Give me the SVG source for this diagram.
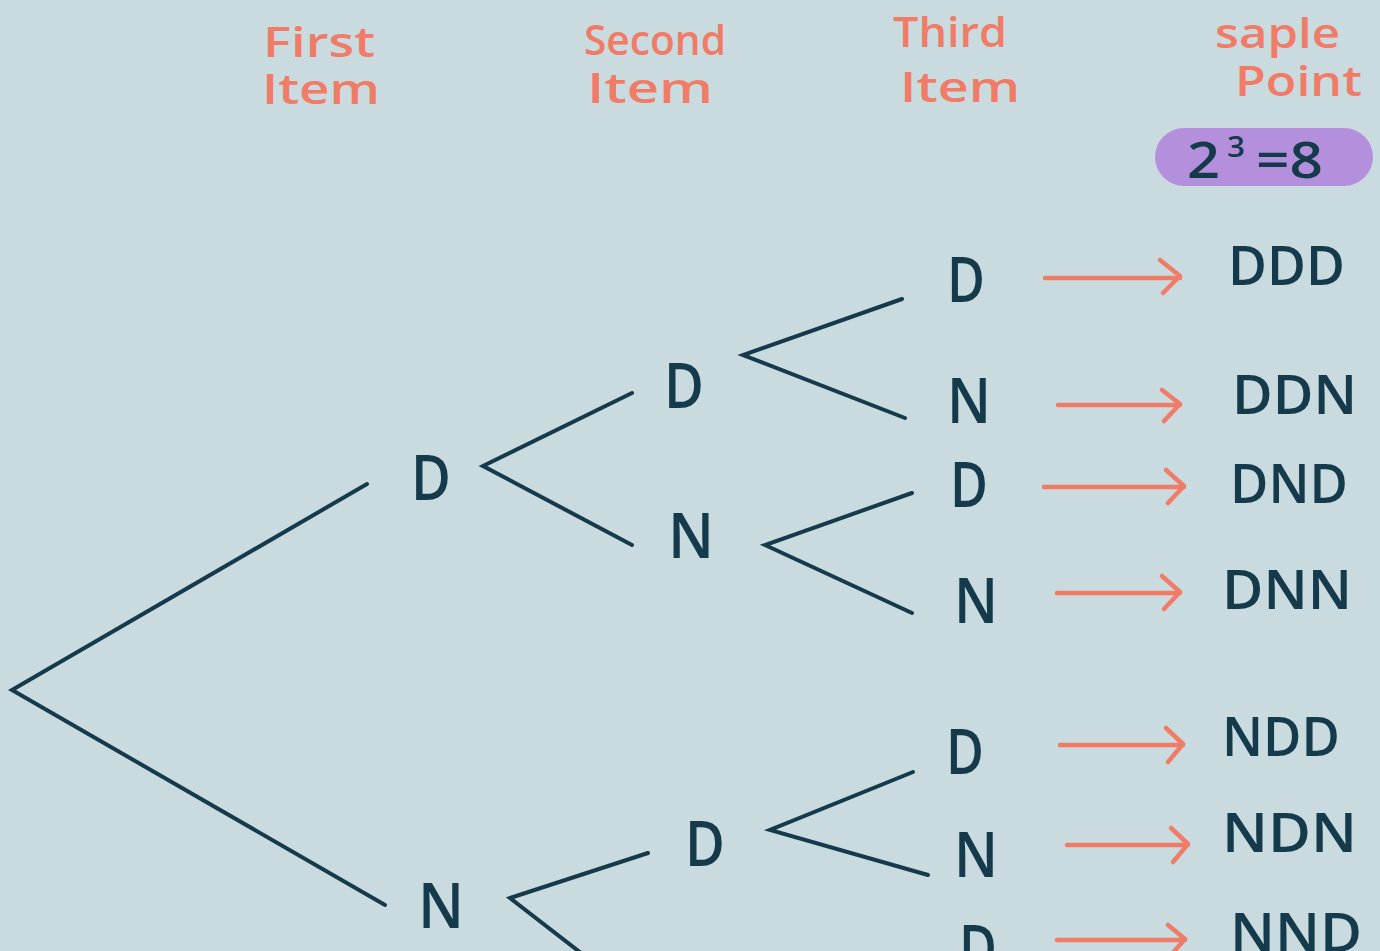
<svg xmlns="http://www.w3.org/2000/svg" width="1380" height="951" viewBox="0 0 1380 951">
<defs>
<style>
.hdr{font-family:"Open Sans","Liberation Sans",sans-serif;font-weight:600;font-size:41px;fill:#f07c68}
.lbl{font-family:"Open Sans","Liberation Sans",sans-serif;font-weight:600;font-size:64px;fill:#143a4b;text-anchor:middle}
.res{font-family:"Open Sans","Liberation Sans",sans-serif;font-weight:600;font-size:54px;fill:#143a4b}
.bdg{font-family:"Open Sans","Liberation Sans",sans-serif;font-weight:600;fill:#143a4b}
.edge{stroke:#143a4b;stroke-width:4;stroke-linecap:round;fill:none}
.arr{stroke:#f07c68;stroke-width:4.5;stroke-linecap:round;stroke-linejoin:round;fill:none}
</style>
</defs>
<rect width="1380" height="951" fill="#c9dbdf"/>
<g id="headers">
<text class="hdr" x="263" y="57" textLength="112" lengthAdjust="spacingAndGlyphs">First</text>
<text class="hdr" x="262" y="104" textLength="118" lengthAdjust="spacingAndGlyphs">Item</text>
<text class="hdr" x="584" y="55" textLength="142" lengthAdjust="spacingAndGlyphs">Second</text>
<text class="hdr" x="587" y="103" textLength="126" lengthAdjust="spacingAndGlyphs">Item</text>
<text class="hdr" x="893" y="47" textLength="114" lengthAdjust="spacingAndGlyphs">Third</text>
<text class="hdr" x="900" y="102" textLength="120" lengthAdjust="spacingAndGlyphs">Item</text>
<text class="hdr" x="1215" y="48" textLength="125" lengthAdjust="spacingAndGlyphs">saple</text>
<text class="hdr" x="1235" y="96" textLength="127" lengthAdjust="spacingAndGlyphs">Point</text>
</g>
<g id="badge">
<rect x="1155" y="128" width="218" height="58" rx="29" fill="#b48fdc"/>
<text class="bdg" font-size="50" x="1187" y="178" textLength="33" lengthAdjust="spacingAndGlyphs">2</text>
<text class="bdg" font-size="28" x="1227" y="157" textLength="18" lengthAdjust="spacingAndGlyphs">3</text>
<text class="bdg" font-size="50" x="1256" y="178" textLength="67" lengthAdjust="spacingAndGlyphs">=8</text>
</g>
<g id="connectors">
<path class="edge" d="M367 484 L12 690 L385 905"/>
<path class="edge" d="M632 393 L483 466 L632 545"/>
<path class="edge" d="M902 299 L743 355 L905 418"/>
<path class="edge" d="M912 493 L765 545 L912 613"/>
<path class="edge" d="M648 853 L510 898 L590 960"/>
<path class="edge" d="M913 772 L770 830 L928 875"/>
<path class="arr" d="M1045 278 H1180 M1160 260 L1180 276 L1163 293"/>
<path class="arr" d="M1058 405 H1180 M1162 390 L1180 404 L1164 421"/>
<path class="arr" d="M1044 487 H1184 M1166 470 L1184 486 L1168 503"/>
<path class="arr" d="M1057 593 H1180 M1162 576 L1180 592 L1164 609"/>
<path class="arr" d="M1060 745 H1183 M1166 728 L1183 744 L1168 762"/>
<path class="arr" d="M1067 845 H1188 M1171 828 L1188 844 L1173 862"/>
<path class="arr" d="M1057 940 H1185 M1168 925 L1185 939 L1170 956"/>
</g>
<g id="n-d1"><text class="lbl" x="431" y="500" textLength="40" lengthAdjust="spacingAndGlyphs">D</text></g>
<g id="n-n1"><text class="lbl" x="441" y="928" textLength="46" lengthAdjust="spacingAndGlyphs">N</text></g>
<g id="n-dd"><text class="lbl" x="684" y="408" textLength="40" lengthAdjust="spacingAndGlyphs">D</text></g>
<g id="n-dn"><text class="lbl" x="691" y="558" textLength="46" lengthAdjust="spacingAndGlyphs">N</text></g>
<g id="n-nd"><text class="lbl" x="705" y="866" textLength="40" lengthAdjust="spacingAndGlyphs">D</text></g>
<g id="n-ddd"><text class="lbl" x="966" y="302" textLength="38" lengthAdjust="spacingAndGlyphs">D</text></g>
<g id="n-ddn"><text class="lbl" x="969" y="423" textLength="44" lengthAdjust="spacingAndGlyphs">N</text></g>
<g id="n-dnd"><text class="lbl" x="969" y="507" textLength="38" lengthAdjust="spacingAndGlyphs">D</text></g>
<g id="n-dnn"><text class="lbl" x="976" y="623" textLength="44" lengthAdjust="spacingAndGlyphs">N</text></g>
<g id="n-ndd"><text class="lbl" x="965" y="774" textLength="38" lengthAdjust="spacingAndGlyphs">D</text></g>
<g id="n-ndn"><text class="lbl" x="976" y="877" textLength="44" lengthAdjust="spacingAndGlyphs">N</text></g>
<g id="n-nnd"><text class="lbl" x="978" y="970" textLength="38" lengthAdjust="spacingAndGlyphs">D</text></g>
<g id="results">
<text class="res" x="1228" y="285" textLength="117" lengthAdjust="spacingAndGlyphs">DDD</text>
<text class="res" x="1232" y="414" textLength="125" lengthAdjust="spacingAndGlyphs">DDN</text>
<text class="res" x="1230" y="503" textLength="118" lengthAdjust="spacingAndGlyphs">DND</text>
<text class="res" x="1222" y="609" textLength="130" lengthAdjust="spacingAndGlyphs">DNN</text>
<text class="res" x="1222" y="756" textLength="118" lengthAdjust="spacingAndGlyphs">NDD</text>
<text class="res" x="1222" y="852" textLength="135" lengthAdjust="spacingAndGlyphs">NDN</text>
<text class="res" x="1230" y="952" textLength="132" lengthAdjust="spacingAndGlyphs">NND</text>
</g>
</svg>
